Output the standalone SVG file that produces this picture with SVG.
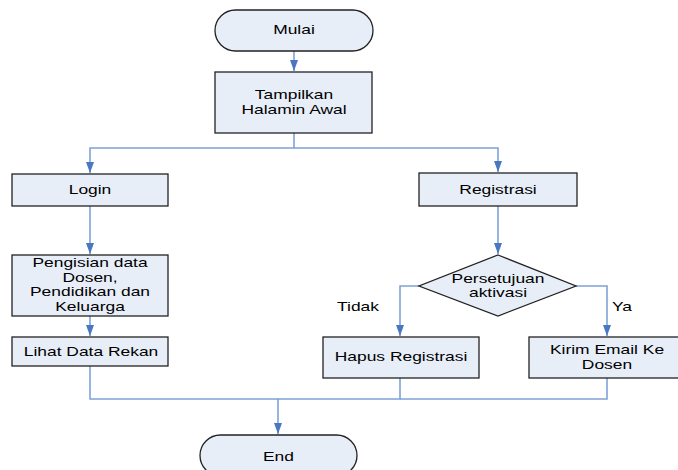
<svg xmlns="http://www.w3.org/2000/svg" width="678" height="470" viewBox="0 0 678 470">
<style>
.s{fill:#E8EEF8;stroke:#222;stroke-width:1.3}
.t{font-family:"Liberation Sans",Arial,sans-serif;font-size:13px;fill:#000;text-anchor:middle}
.c{fill:none;stroke:#7EA3D6;stroke-width:1.6}
</style>
<defs>
<marker id="ah" markerUnits="userSpaceOnUse" markerWidth="12" markerHeight="8" refX="11" refY="4" orient="auto">
<path d="M0,0 L11,4 L0,8 z" fill="#4A78C0"/>
</marker>
</defs>
<rect width="678" height="470" fill="#fff"/>
<g id="connectors">
<path class="c" d="M294 51 V71" marker-end="url(#ah)"/>
<path class="c" d="M294 133 V148 H90 V173" marker-end="url(#ah)"/>
<path class="c" d="M294 148 H498 V172" marker-end="url(#ah)"/>
<path class="c" d="M90 206 V254" marker-end="url(#ah)"/>
<path class="c" d="M90 316 V336" marker-end="url(#ah)"/>
<path class="c" d="M498 206 V254" marker-end="url(#ah)"/>
<path class="c" d="M419 286 H400 V336" marker-end="url(#ah)"/>
<path class="c" d="M576 286 H607 V336" marker-end="url(#ah)"/>
<path class="c" d="M90 366 V399 H278 V434" marker-end="url(#ah)"/>
<path class="c" d="M400 378 V399 H278"/>
<path class="c" d="M607 378 V399 H400"/>
<text class="t" transform="translate(358,311) scale(1.34 1)">Tidak</text>
<text class="t" transform="translate(622,311) scale(1.34 1)">Ya</text>
</g>
<g id="mulai">
<rect class="s" x="215" y="10" width="158" height="41" rx="20.5"/>
<text class="t" transform="translate(294,34) scale(1.34 1)">Mulai</text>
</g>
<g id="tampilkan">
<rect class="s" x="215" y="72" width="157" height="61"/>
<text class="t" transform="translate(294,99) scale(1.34 1)">Tampilkan</text>
<text class="t" transform="translate(294,113.5) scale(1.34 1)">Halamin Awal</text>
</g>
<g id="login">
<rect class="s" x="12" y="174" width="156" height="32"/>
<text class="t" transform="translate(90,194) scale(1.34 1)">Login</text>
</g>
<g id="pengisian">
<rect class="s" x="12" y="255" width="156" height="61"/>
<text class="t" transform="translate(90,267.4) scale(1.34 1)">Pengisian data</text>
<text class="t" transform="translate(90,281.9) scale(1.34 1)">Dosen,</text>
<text class="t" transform="translate(90,296.4) scale(1.34 1)">Pendidikan dan</text>
<text class="t" transform="translate(90,310.9) scale(1.34 1)">Keluarga</text>
</g>
<g id="lihat">
<rect class="s" x="12" y="337" width="156" height="29"/>
<text class="t" transform="translate(91,355.5) scale(1.34 1)">Lihat Data Rekan</text>
</g>
<g id="registrasi">
<rect class="s" x="419" y="173" width="158" height="33"/>
<text class="t" transform="translate(498,193.5) scale(1.34 1)">Registrasi</text>
</g>
<g id="persetujuan">
<polygon class="s" points="498,255 576,286 498,316 419,286"/>
<text class="t" transform="translate(498,282.7) scale(1.34 1)">Persetujuan</text>
<text class="t" transform="translate(498,297.3) scale(1.34 1)">aktivasi</text>
</g>
<g id="hapus">
<rect class="s" x="323" y="337" width="156" height="41"/>
<text class="t" transform="translate(401,361) scale(1.34 1)">Hapus Registrasi</text>
</g>
<g id="kirim">
<rect class="s" x="529" y="337" width="156" height="41"/>
<text class="t" transform="translate(607,354) scale(1.34 1)">Kirim Email Ke</text>
<text class="t" transform="translate(607,368.5) scale(1.34 1)">Dosen</text>
</g>
<g id="end">
<rect class="s" x="200" y="435" width="157" height="41" rx="20.5"/>
<text class="t" transform="translate(278.5,461) scale(1.34 1)">End</text>
</g>
</svg>
